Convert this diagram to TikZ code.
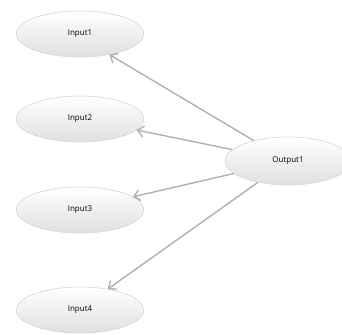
\documentclass[tikz,border=0pt]{standalone}
\usepackage{fontspec}
\setmainfont{Open Sans}
\usetikzlibrary{arrows.meta,shapes.geometric}
\definecolor{edgegray}{HTML}{B0B0B0}
\definecolor{rimgray}{HTML}{D6D6D6}
\definecolor{lowgray}{HTML}{E0E0E0}
\tikzset{
  usecase/.style={ellipse, draw=rimgray, line width=0.6pt, top color=white, bottom color=lowgray,
    minimum width=128pt, minimum height=46pt, inner sep=0pt, font=\fontsize{8}{9}\selectfont},
  link/.style={draw=edgegray, line width=1.4pt, -{Straight Barb[length=6pt,width=11pt,line width=1.4pt]}}
}
\begin{document}
\begin{tikzpicture}[x=1pt,y=-1pt]
\useasboundingbox (0,0) rectangle (342,334);
\clip (0,0) rectangle (342,334);
\node[usecase] (in1) at (80,34) {Input1};
\node[usecase] (in2) at (80,119) {Input2};
\node[usecase] (in3) at (80,210) {Input3};
\node[usecase] (in4) at (80,310) {Input4};
\node[usecase, minimum width=126pt, minimum height=48pt] (out) at (288,161) {Output1};
\draw[link] (out) -- (in1.-35);
\draw[link] (out) -- (in2.-11);
\draw[link] (out) -- (in3.14);
\draw[link] (out) -- (in4.37);
\end{tikzpicture}
\end{document}
